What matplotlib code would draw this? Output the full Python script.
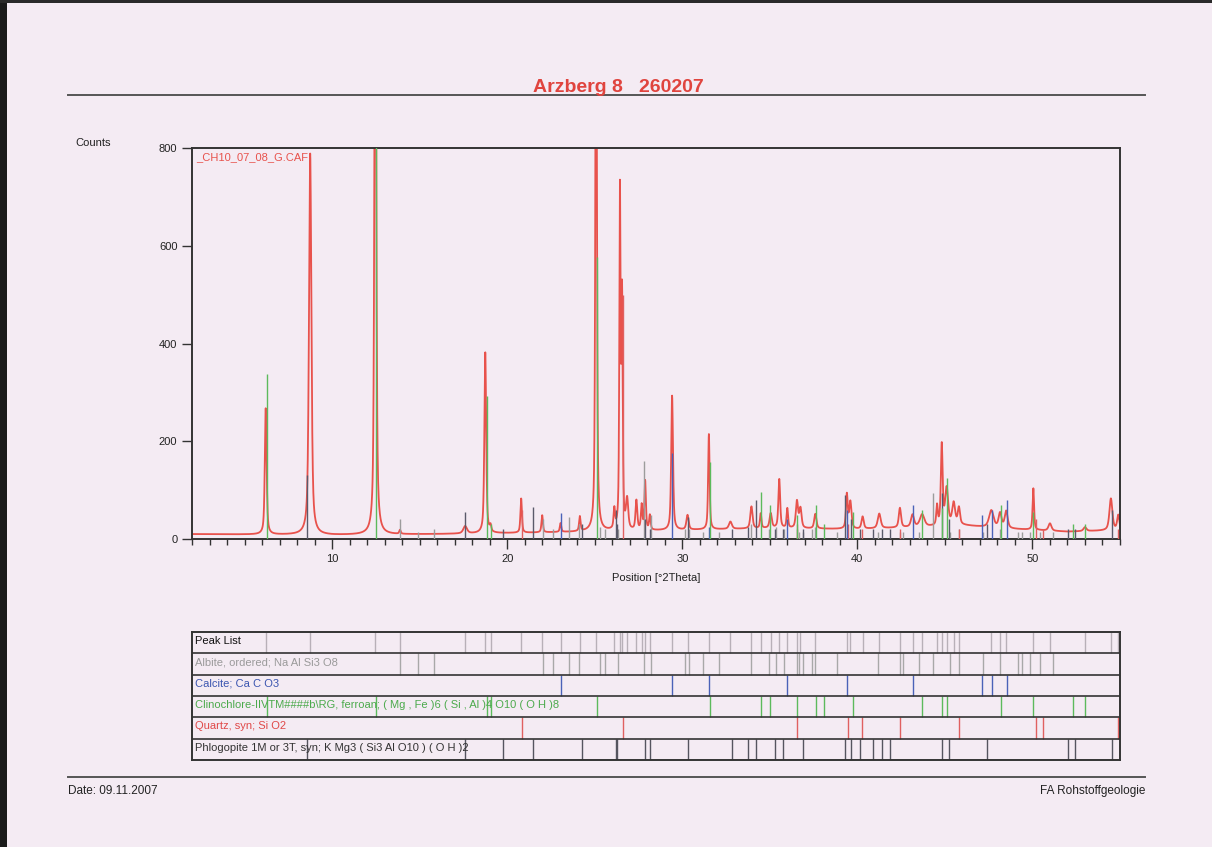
import numpy as np
import matplotlib
matplotlib.use("Agg")
import matplotlib.pyplot as plt
from matplotlib.lines import Line2D
from matplotlib.ticker import MultipleLocator

peak_pos = [6.21, 8.75, 12.47, 13.88, 17.6, 18.75, 19.05, 20.8, 22.0, 23.05, 24.15, 25.08,
            26.12, 26.44, 26.56, 26.85, 27.38, 27.68, 27.88, 28.15, 29.42, 30.3, 31.52, 32.75,
            33.95, 34.48, 35.05, 35.54, 36.0, 36.55, 36.75, 37.6, 39.4, 39.6, 40.3, 41.25,
            42.43, 43.15, 43.7, 44.55, 44.82, 45.1, 45.5, 45.8, 47.65, 48.15, 48.5, 50.05,
            51.0, 53.0, 54.48, 54.9]
peak_height = [258, 780, 1400, 8, 15, 370, 12, 70, 35, 18, 30, 1300,
               40, 680, 470, 60, 60, 50, 100, 30, 275, 30, 195, 15,
               45, 30, 30, 100, 40, 55, 40, 30, 70, 55, 25, 30,
               40, 25, 25, 40, 165, 75, 45, 35, 35, 30, 35, 85,
               15, 8, 65, 30]
peak_width = [0.12, 0.16, 0.12, 0.1, 0.25, 0.12, 0.1, 0.1, 0.1, 0.1, 0.1, 0.1,
              0.1, 0.08, 0.09, 0.15, 0.12, 0.1, 0.1, 0.1, 0.12, 0.15, 0.1, 0.2,
              0.15, 0.1, 0.15, 0.12, 0.1, 0.15, 0.15, 0.15, 0.12, 0.15, 0.15, 0.2,
              0.15, 0.2, 0.3, 0.1, 0.12, 0.2, 0.2, 0.15, 0.3, 0.2, 0.2, 0.1,
              0.2, 0.2, 0.2, 0.15]
bg_pos = [2, 6, 10, 16, 20, 25, 30, 35, 40, 44, 46, 48, 52, 55]
bg_counts = [10, 9, 8, 10, 12, 15, 18, 22, 20, 25, 28, 22, 15, 18]

# reference patterns (positions and stick heights)
albite_pos = [13.88, 14.93, 15.82, 22.06, 22.63, 23.53, 24.11, 25.3, 25.58, 26.34, 27.81, 28.2,
              30.16, 30.4, 31.2, 32.1, 33.92, 34.97, 35.33, 35.83, 36.53, 36.68, 36.88, 37.39,
              37.58, 38.82, 41.2, 42.43, 42.62, 43.54, 44.34, 45.29, 45.8, 47.19, 48.14, 49.19,
              49.38, 49.86, 50.43, 51.19]
albite_h = [40, 15, 20, 40, 20, 45, 30, 25, 20, 20, 160, 50,
            20, 20, 15, 15, 30, 20, 25, 20, 20, 15, 15, 20,
            25, 15, 15, 15, 15, 15, 95, 15, 20, 15, 20, 15,
            15, 15, 15, 15]
calcite_pos = [23.06, 29.43, 31.5, 35.96, 39.38, 43.15, 47.13, 47.67, 48.56]
calcite_h = [54, 176, 25, 40, 60, 70, 50, 60, 79]
chlorite_pos = [6.27, 12.49, 18.87, 19.06, 25.11, 31.61, 34.47, 35.01, 36.57, 37.62, 38.11, 39.77,
                43.67, 44.81, 45.1, 48.23, 50.04, 52.33, 53.0]
chlorite_h = [337, 1000, 292, 30, 578, 157, 97, 70, 50, 70, 30, 55,
              60, 63, 124, 70, 55, 30, 30]
quartz_pos = [20.86, 26.63, 36.56, 39.47, 40.27, 42.43, 45.8, 50.2, 50.6, 54.9]
quartz_h = [60, 500, 30, 30, 20, 20, 20, 40, 20, 20]
phlog_pos = [8.59, 17.6, 19.76, 21.5, 24.25, 26.2, 26.3, 27.9, 28.16, 30.34, 32.82, 33.77, 34.21,
             35.3, 35.73, 36.88, 39.29, 39.62, 40.15, 40.87, 41.39, 41.86, 44.82, 45.25, 47.39,
             52.05, 52.43, 54.52]
phlog_h = [130, 55, 20, 65, 30, 60, 30, 40, 20, 45, 20, 25, 80,
           20, 20, 20, 90, 40, 20, 20, 20, 20, 95, 40, 30,
           20, 20, 60]

page = '#f4ebf3'
red = '#e8524c'
W, H = 1212, 847


def fx(x):
    return x / W


def fy(y):
    return 1 - y / H


tt = np.arange(2.0, 55.0, 0.01)
counts = np.interp(tt, bg_pos, bg_counts)
for p, h, w in zip(peak_pos, peak_height, peak_width):
    d = (tt - p) / w
    counts = counts + h * (0.6 / (1 + 4 * d ** 2) + 0.4 * np.exp(-4 * np.log(2) * d ** 2))

plt.rcParams['font.family'] = ['Liberation Sans', 'DejaVu Sans']
fig = plt.figure(figsize=(12.12, 8.47), dpi=100, facecolor=page)

# scanner border
fig.add_artist(plt.Rectangle((0, 0), fx(7), 1, transform=fig.transFigure, color='#1a1a1a', lw=0))
fig.add_artist(plt.Rectangle((0, fy(3)), 1, fy(0) - fy(3), transform=fig.transFigure, color='#2a2a2a', lw=0))

# header / footer
fig.add_artist(Line2D([fx(68), fx(1145)], [fy(95), fy(95)], color='#555555', lw=1.4))
fig.add_artist(Line2D([fx(68), fx(1145)], [fy(777), fy(777)], color='#555555', lw=1.4))
fig.text(fx(618), fy(87), 'Arzberg 8   260207', color='#e0443e', fontsize=14, fontweight='bold',
         ha='center', va='center', family=['Liberation Sans Narrow', 'Liberation Sans'])
fig.text(fx(75), fy(143), 'Counts', fontsize=8, ha='left', va='center', color='#222222')
fig.text(fx(68), fy(791), 'Date: 09.11.2007', fontsize=8.5, ha='left', va='center', color='#222222')
fig.text(fx(1145), fy(791), 'FA Rohstoffgeologie', fontsize=8.5, ha='right', va='center', color='#222222')

# main pattern
ax = fig.add_axes([fx(192), fy(539), fx(1120) - fx(192), fy(148) - fy(539)])
ax.set_facecolor(page)
ax.plot(tt, counts, color=red, lw=1.3, zorder=2)
sticks = [(albite_pos, albite_h, '#9c9c9c'), (phlog_pos, phlog_h, '#5a5a6a'),
          (quartz_pos, quartz_h, '#e06060'), (calcite_pos, calcite_h, '#4a62b8'),
          (chlorite_pos, chlorite_h, '#5cba5c')]
for pos, hh, col in sticks:
    ax.vlines(pos, 0, hh, color=col, lw=1.0, zorder=3)
ax.set_xlim(2, 55)
ax.set_ylim(0, 800)
ax.set_yticks([0, 200, 400, 600, 800])
ax.xaxis.set_major_locator(MultipleLocator(10))
ax.xaxis.set_minor_locator(MultipleLocator(1))
ax.tick_params(axis='both', which='major', direction='out', length=7, width=1, labelsize=8,
               color='#333333', labelcolor='#222222')
ax.tick_params(axis='x', which='minor', direction='out', length=4, width=1, color='#333333')
for s in ax.spines.values():
    s.set_color('#333333')
    s.set_linewidth(1.4)
ax.set_xlabel('Position [°2Theta]', fontsize=8, color='#222222', labelpad=7)
ax.text(0.005, 0.99, '_CH10_07_08_G.CAF', transform=ax.transAxes, color=red, fontsize=8,
        ha='left', va='top')

# peak list panel
pax = fig.add_axes([fx(192), fy(760), fx(1120) - fx(192), fy(632) - fy(760)])
pax.set_facecolor(page)
pax.set_xlim(2, 55)
pax.set_ylim(6, 0)
pax.set_xticks([])
pax.set_yticks([])
for s in pax.spines.values():
    s.set_color('#333333')
    s.set_linewidth(1.4)
rows = [('Peak List', peak_pos, '#b8b0b8', '#111111'),
        ('Albite, ordered; Na Al Si3 O8', albite_pos, '#a8a8a8', '#9a9a9a'),
        ('Calcite; Ca C O3', calcite_pos, '#4a62b8', '#3b55b0'),
        ('Clinochlore-IIVTM####b\\RG, ferroan; ( Mg , Fe )6 ( Si , Al )4 O10 ( O H )8',
         chlorite_pos, '#5cba5c', '#4caa4c'),
        ('Quartz, syn; Si O2', quartz_pos, '#e06060', '#e04848'),
        ('Phlogopite 1M or 3T, syn; K Mg3 ( Si3 Al O10 ) ( O H )2', phlog_pos, '#55555f', '#333333')]
for i, (label, pos, lcol, tcol) in enumerate(rows):
    pax.vlines(pos, i, i + 1, color=lcol, lw=1.0)
    if i > 0:
        pax.axhline(i, color='#333333', lw=1.2)
    pax.text(2.15, i + 0.42, label, color=tcol, fontsize=8, ha='left', va='center')

fig.savefig('out.png', dpi=100, facecolor=page)
